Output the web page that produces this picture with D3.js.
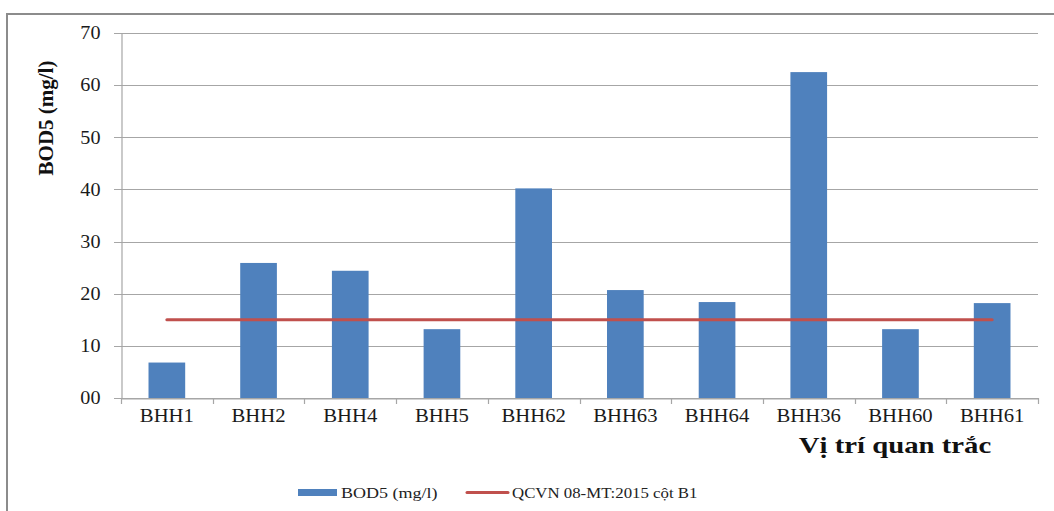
<!DOCTYPE html>
<html><head><meta charset="utf-8">
<script src="https://cdn.jsdelivr.net/npm/d3@7"></script>
<style>body{margin:0;background:#fff}svg{display:block}text{font-family:"Liberation Serif","Times New Roman",serif}</style>
</head><body><svg id="c" width="1054" height="511"></svg>
<script>
const categories = ["BHH1","BHH2","BHH4","BHH5","BHH62","BHH63","BHH64","BHH36","BHH60","BHH61"];
const bodValues = [6.8, 25.9, 24.4, 13.2, 40.2, 20.7, 18.4, 62.5, 13.2, 18.2];
const limitValues = [15,15,15,15,15,15,15,15,15,15];
const yTicks = [0,10,20,30,40,50,60,70];
const yTickLabels = ["00","10","20","30","40","50","60","70"];
const seriesNames = ["BOD5 (mg/l)", "QCVN 08-MT:2015 cột B1"];

const svg = d3.select("#c");
const L = 121, R = 1038, T = 33, B = 398;
function stretch(f){
  return sel => sel.each(function(){
    const w = this.getComputedTextLength();
    d3.select(this).attr("textLength", w*f).attr("lengthAdjust","spacingAndGlyphs");
  });
}

// frame (top + left)
svg.append("line").attr("x1",7).attr("x2",1054).attr("y1",14).attr("y2",14).attr("stroke","#8c8c8c").attr("stroke-width",2);
svg.append("line").attr("x1",7).attr("x2",7).attr("y1",13).attr("y2",511).attr("stroke","#8c8c8c").attr("stroke-width",2);

const x = d3.scaleBand().domain(categories).range([L,R]).paddingInner(0.6).paddingOuter(0.3);
const xb = d3.scaleBand().domain(categories).range([L,R]);
const y = d3.scaleLinear().domain([0,70]).range([B,T]);

// grid
svg.append("g").selectAll("line").data(yTicks).join("line")
  .attr("x1",L-7).attr("x2",R).attr("y1",d=>Math.round(y(d))+0.5).attr("y2",d=>Math.round(y(d))+0.5)
  .attr("stroke","#a6a6a6").attr("stroke-width",1.2);

// y axis
const yAxis = svg.append("g").attr("transform",`translate(${L+0.5},0)`)
  .call(d3.axisLeft(y).tickValues(yTicks).tickFormat((d,i)=>yTickLabels[i]).tickSize(0).tickPadding(21));
yAxis.attr("font-family",null);
yAxis.select(".domain").attr("stroke","#a6a6a6").attr("stroke-width",1.2);
yAxis.selectAll("text").attr("font-size",18).attr("fill","#1a1a1a").call(stretch(1.12));

// x axis
const xAxis = svg.append("g").attr("transform",`translate(0,${B+0.5})`)
  .call(d3.axisBottom(xb).tickSize(0).tickPadding(11));
xAxis.attr("font-family",null);
xAxis.select(".domain").attr("stroke","#a6a6a6").attr("stroke-width",1.2);
xAxis.selectAll("text").attr("font-size",18).attr("fill","#1a1a1a").call(stretch(1.15));
const bounds = categories.map(c=>xb(c)).concat([R]);
svg.append("g").selectAll("line").data(bounds).join("line")
  .attr("x1",d=>Math.round(d)+0.5).attr("x2",d=>Math.round(d)+0.5).attr("y1",B).attr("y2",B+6)
  .attr("stroke","#a6a6a6").attr("stroke-width",1.2);

// bars
svg.append("g").selectAll("rect").data(bodValues).join("rect")
  .attr("x",(d,i)=>x(categories[i])).attr("width",x.bandwidth())
  .attr("y",d=>y(d)).attr("height",d=>B-y(d)).attr("fill","#4f81bd");

// limit line
const line = d3.line().x((d,i)=>xb(categories[i])+xb.bandwidth()/2).y(d=>y(d));
svg.append("path").datum(limitValues).attr("d",line).attr("fill","none")
  .attr("stroke","#c0504d").attr("stroke-width",3).attr("stroke-linecap","round");

// axis titles
svg.append("text").attr("transform","translate(53,118) rotate(-90)").attr("text-anchor","middle")
  .attr("font-weight","bold").attr("font-size",21).attr("fill","#111").text("BOD5 (mg/l)");
svg.append("text").attr("x",895).attr("y",453).attr("text-anchor","middle")
  .attr("font-weight","bold").attr("font-size",23).attr("fill","#111").text("Vị trí quan trắc").call(stretch(1.25));

// legend
const lg = svg.append("g").attr("font-size",15).attr("fill","#222");
lg.append("rect").attr("x",298).attr("y",489).attr("width",39).attr("height",7).attr("fill","#4f81bd");
lg.append("text").attr("x",341).attr("y",498).text(seriesNames[0]).call(stretch(1.2));
lg.append("line").attr("x1",467).attr("x2",508).attr("y1",492.5).attr("y2",492.5).attr("stroke","#c0504d").attr("stroke-width",3).attr("stroke-linecap","round");
lg.append("text").attr("x",512).attr("y",498).text(seriesNames[1]).call(stretch(1.12));
</script></body></html>
